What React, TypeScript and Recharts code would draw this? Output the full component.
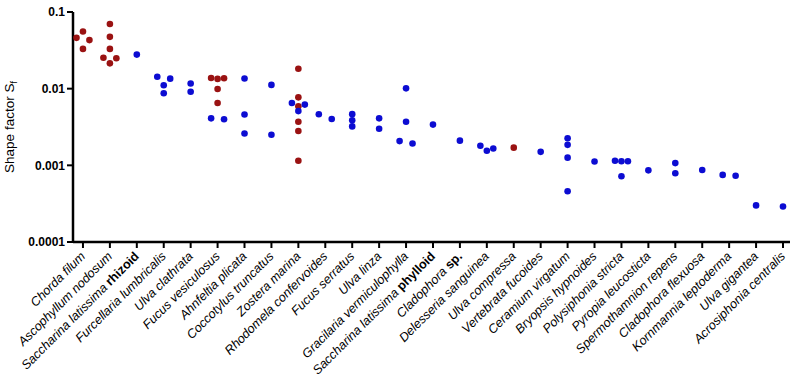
import React from 'react';
import { ScatterChart, Scatter, XAxis, YAxis } from 'recharts';

document.body.style.margin = '0';

const SPECIES = [
  'Chorda filum', 'Ascophyllum nodosum', 'Saccharina latissima', 'Furcellaria lumbricalis',
  'Ulva clathrata', 'Fucus vesiculosus', 'Ahnfeltia plicata', 'Coccotylus truncatus',
  'Zostera marina', 'Rhodomela confervoides', 'Fucus serratus', 'Ulva linza',
  'Gracilaria vermiculophylla', 'Saccharina latissima', 'Cladophora', 'Delesseria sanguinea',
  'Ulva compressa', 'Vertebrata fucoides', 'Ceramium virgatum', 'Bryopsis hypnoides',
  'Polysiphonia stricta', 'Pyropia leucosticta', 'Spermothamnion repens', 'Cladophora flexuosa',
  'Kornmannia leptoderma', 'Ulva gigantea', 'Acrosiphonia centralis',
];
// upright bold part after the italic name
const QUALIFIER = [
  '', '', 'rhizoid', '', '', '', '', '', '', '', '', '', '',
  'phylloid', 'sp.', '', '', '', '', '', '', '', '', '', '', '', '',
];

// shape factor Sf, red points
const RED_SF: number[][] = [
  [0.0556, 0.046, 0.043, 0.033],
  [0.0696, 0.0474, 0.033, 0.0253, 0.0249, 0.0214],
  [], [], [],
  [0.0138, 0.0137, 0.0134, 0.0099, 0.0065],
  [], [],
  [0.0182, 0.0077, 0.0059, 0.0037, 0.0028, 0.00115],
  [], [], [], [], [], [], [],
  [0.0017],
  [], [], [], [], [], [], [], [], [], [],
];

// shape factor Sf, blue points
const BLUE_SF: number[][] = [
  [], [],
  [0.0278],
  [0.0143, 0.0135, 0.0111, 0.0087],
  [0.0117, 0.0091],
  [0.0041, 0.0040],
  [0.0136, 0.0046, 0.0026],
  [0.0112, 0.0025],
  [0.0065, 0.0062, 0.0051],
  [0.00463, 0.00402],
  [0.00465, 0.00386, 0.00322],
  [0.0041, 0.0030],
  [0.0101, 0.0037, 0.00207, 0.00193],
  [0.0034],
  [0.0021],
  [0.0018, 0.00166, 0.00155],
  [],
  [0.0015],
  [0.00226, 0.00185, 0.00126, 0.00046],
  [0.00112],
  [0.00115, 0.00113, 0.00113, 0.00072],
  [0.00086],
  [0.00107, 0.00079],
  [0.00087],
  [0.00075, 0.00073],
  [0.0003],
  [0.00029],
];

const Y_TICKS = [0.0001, 0.001, 0.01, 0.1];

const RED = '#9a1212';
const BLUE = '#0c0cd2';
const FONT = '"Liberation Sans", Arial, sans-serif';

// column scatter: points close in value are spread sideways within their column
const ROW_GAP = 0.07; // decades
const STEP = 0.24; // category units
function swarm(groups: number[][]) {
  const pts: { x: number; y: number }[] = [];
  groups.forEach((vals, i) => {
    const sorted = [...vals].sort((a, b) => b - a);
    let row: number[] = [];
    const flush = () => {
      const n = row.length;
      const offs = n === 1 ? [0] : n === 2 ? [-1, 1] : n === 3 ? [-1, 1, 0] : row.map((_, k) => k - (n - 1) / 2);
      row.forEach((v, k) => pts.push({ x: i + offs[k] * STEP, y: v }));
      row = [];
    };
    sorted.forEach(v => {
      if (row.length && Math.log10(row[0] / v) >= ROW_GAP) flush();
      row.push(v);
    });
    if (row.length) flush();
  });
  return pts;
}

const redData = swarm(RED_SF);
const blueData = swarm(BLUE_SF);

function SpeciesTick({ x, y, payload }: any) {
  const i = payload.value;
  return (
    <g transform={`translate(${x + 3},${y + 7})`}>
      <text transform="rotate(-45)" textAnchor="end" fontSize={12.6} fontFamily={FONT} fill="#000">
        <tspan fontStyle="italic">{SPECIES[i]}</tspan>
        {QUALIFIER[i] ? <tspan fontWeight="bold"> {QUALIFIER[i]}</tspan> : null}
      </text>
    </g>
  );
}

function ValueTick({ x, y, payload }: any) {
  return (
    <text x={x} y={y} dy="0.36em" textAnchor="end" fontSize={12} fontWeight="bold" fontFamily={FONT} fill="#000">
      {String(payload.value)}
    </text>
  );
}

function YLabel({ viewBox }: any) {
  const cx = 14;
  const cy = viewBox.y + viewBox.height / 2;
  return (
    <text transform={`translate(${cx},${cy}) rotate(-90)`} textAnchor="middle" fontSize={13.5} fontFamily={FONT} fill="#000">
      Shape factor S<tspan fontSize={9} dy={3}>f</tspan>
    </text>
  );
}

const dot = (color: string) => (props: any) => (
  <circle cx={props.cx} cy={props.cy} r={3.3} fill={color} />
);

export default function App() {
  return (
    <ScatterChart width={800} height={382} margin={{ top: 12, right: 10, left: 0, bottom: 0 }}>
      <XAxis
        type="number"
        dataKey="x"
        domain={[-0.37, 26.26]}
        allowDataOverflow
        ticks={SPECIES.map((_, i) => i)}
        interval={0}
        height={140}
        tick={<SpeciesTick />}
        tickSize={6}
        axisLine={{ stroke: '#000', strokeWidth: 2.5 }}
        tickLine={{ stroke: '#000', strokeWidth: 2 }}
      />
      <YAxis
        type="number"
        dataKey="y"
        scale="log"
        domain={[0.0001, 0.1]}
        allowDataOverflow
        ticks={Y_TICKS}
        interval={0}
        width={73}
        tick={<ValueTick />}
        tickSize={6}
        axisLine={{ stroke: '#000', strokeWidth: 2.5 }}
        tickLine={{ stroke: '#000', strokeWidth: 2 }}
        label={<YLabel />}
      />
      <Scatter data={redData} shape={dot(RED)} isAnimationActive={false} />
      <Scatter data={blueData} shape={dot(BLUE)} isAnimationActive={false} />
    </ScatterChart>
  );
}
